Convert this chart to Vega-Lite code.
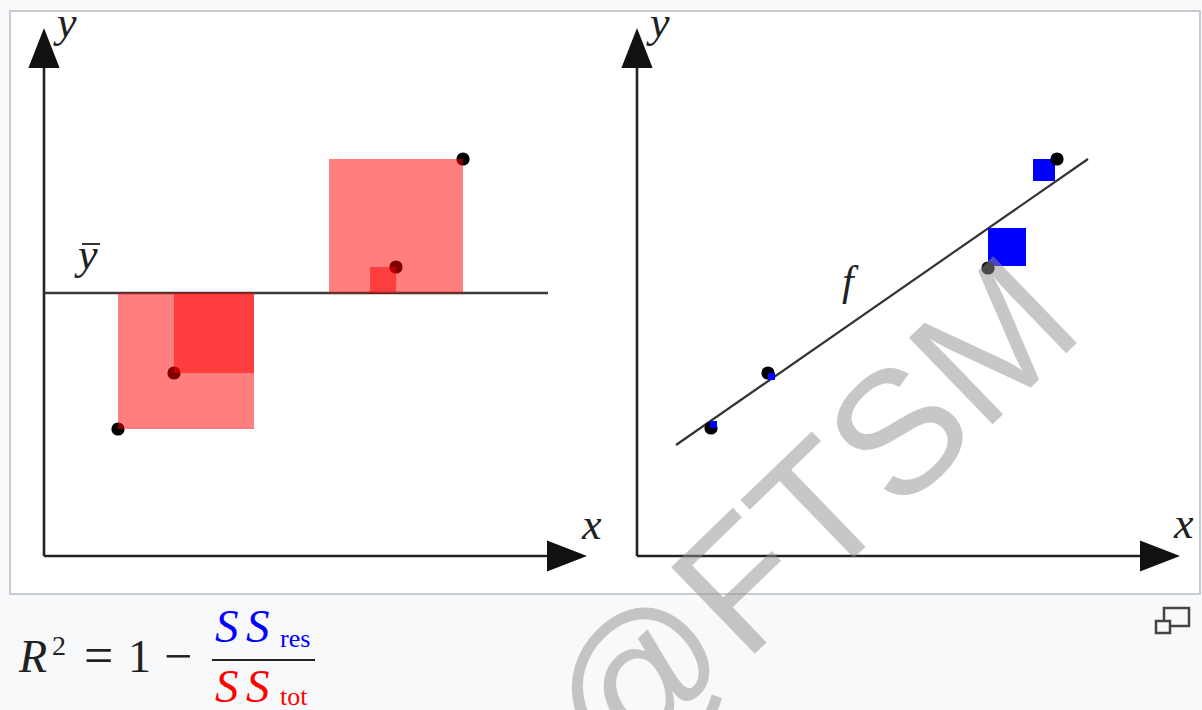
{
  "$schema": "https://vega.github.io/schema/vega-lite/v6.json",
  "width": 1202,
  "height": 710,
  "autosize": {"type": "none"},
  "padding": 0,
  "background": "#f8f9fa",
  "config": {"view": {"stroke": null}},
  "datasets": {
    "box": [{"x": 10, "x2": 1200, "y": 11, "y2": 594}],
    "lines": [
      {"name": "left y axis", "x": 44, "y": 556, "x2": 44, "y2": 55, "w": 2.6, "c": "#222222"},
      {"name": "left x axis", "x": 44, "y": 556, "x2": 570, "y2": 556, "w": 2.6, "c": "#222222"},
      {"name": "mean", "x": 44, "y": 293, "x2": 548, "y2": 293, "w": 2.4, "c": "#3a3a3a"},
      {"name": "right y axis", "x": 637, "y": 556, "x2": 637, "y2": 55, "w": 2.6, "c": "#222222"},
      {"name": "right x axis", "x": 637, "y": 556, "x2": 1163, "y2": 556, "w": 2.6, "c": "#222222"},
      {"name": "f", "x": 676, "y": 445, "x2": 1088, "y2": 159, "w": 2.2, "c": "#333333"},
      {"name": "macron", "x": 82, "y": 244, "x2": 100, "y2": 244, "w": 2, "c": "#333333"},
      {"name": "fraction", "x": 212, "y": 660, "x2": 315, "y2": 660, "w": 2, "c": "#222222"}
    ],
    "arrows": [
      {"x": 44, "y": 48, "a": 0},
      {"x": 567, "y": 556, "a": 90},
      {"x": 637, "y": 48, "a": 0},
      {"x": 1160, "y": 556, "a": 90}
    ],
    "leftPts": [
      {"x": 118, "y": 429},
      {"x": 174, "y": 373},
      {"x": 396, "y": 267},
      {"x": 463, "y": 159}
    ],
    "tot": [
      {"x": 118, "x2": 254, "y": 293, "y2": 429},
      {"x": 174, "x2": 254, "y": 293, "y2": 373},
      {"x": 370, "x2": 396, "y": 267, "y2": 293},
      {"x": 329, "x2": 463, "y": 159, "y2": 293}
    ],
    "rightPts": [
      {"x": 711, "y": 428},
      {"x": 768, "y": 373},
      {"x": 988, "y": 268},
      {"x": 1057, "y": 159}
    ],
    "res": [
      {"x": 710, "x2": 717, "y": 421, "y2": 428, "over": true},
      {"x": 768, "x2": 775, "y": 373, "y2": 380, "over": true},
      {"x": 988, "x2": 1026, "y": 228, "y2": 266, "over": false},
      {"x": 1033, "x2": 1055, "y": 159, "y2": 181, "over": false}
    ],
    "italic": [
      {"text": "y", "x": 57, "y": 37, "s": 44, "c": "#202122"},
      {"text": "y", "x": 650, "y": 37, "s": 44, "c": "#202122"},
      {"text": "x", "x": 582, "y": 539, "s": 44, "c": "#202122"},
      {"text": "x", "x": 1174, "y": 538, "s": 44, "c": "#202122"},
      {"text": "y", "x": 78, "y": 269, "s": 44, "c": "#202122"},
      {"text": "f", "x": 842, "y": 295, "s": 42, "c": "#202122"},
      {"text": "R", "x": 19, "y": 672, "s": 46, "c": "#202122"},
      {"text": "S", "x": 215, "y": 642, "s": 47, "c": "#0000ff"},
      {"text": "S", "x": 246, "y": 642, "s": 47, "c": "#0000ff"},
      {"text": "S", "x": 215, "y": 702, "s": 47, "c": "#ff0000"},
      {"text": "S", "x": 246, "y": 702, "s": 47, "c": "#ff0000"}
    ],
    "roman": [
      {"text": "2", "x": 52, "y": 655, "s": 28, "c": "#202122"},
      {"text": "=", "x": 84, "y": 673, "s": 52, "c": "#202122"},
      {"text": "1", "x": 128, "y": 672, "s": 46, "c": "#202122"},
      {"text": "−", "x": 164, "y": 673, "s": 50, "c": "#202122"},
      {"text": "res", "x": 280, "y": 647, "s": 26, "c": "#0000ff"},
      {"text": "tot", "x": 280, "y": 705, "s": 26, "c": "#ff0000"}
    ],
    "icon": [
      {"x": 1164, "x2": 1189, "y": 608, "y2": 626},
      {"x": 1156, "x2": 1170, "y": 621, "y2": 633}
    ],
    "wm": [{"text": "@FTSM", "x": 815, "y": 522}]
  },
  "encoding": {
    "x": {"field": "x", "type": "quantitative", "scale": {"domain": [0, 1202], "nice": false, "zero": false}, "axis": null},
    "y": {"field": "y", "type": "quantitative", "scale": {"domain": [0, 710], "reverse": true, "nice": false, "zero": false}, "axis": null}
  },
  "layer": [
    {
      "data": {"name": "box"},
      "mark": {"type": "rect", "fill": "#ffffff", "stroke": "#c8ccd1", "strokeWidth": 2},
      "encoding": {"x2": {"field": "x2"}, "y2": {"field": "y2"}}
    },
    {
      "data": {"name": "lines"},
      "mark": {"type": "rule"},
      "encoding": {
        "x2": {"field": "x2"},
        "y2": {"field": "y2"},
        "strokeWidth": {"field": "w", "type": "quantitative", "scale": null},
        "color": {"field": "c", "type": "nominal", "scale": null}
      }
    },
    {
      "data": {"name": "arrows"},
      "mark": {"type": "point", "shape": "M0,-1L0.78,1L-0.78,1Z", "filled": true, "size": 1600, "color": "#111111", "opacity": 1},
      "encoding": {"angle": {"field": "a", "type": "quantitative", "scale": null}}
    },
    {
      "data": {"name": "leftPts"},
      "mark": {"type": "point", "shape": "circle", "filled": true, "size": 175, "color": "#000000", "opacity": 1}
    },
    {
      "data": {"name": "tot"},
      "mark": {"type": "rect", "fill": "#ff0000", "opacity": 0.5},
      "encoding": {"x2": {"field": "x2"}, "y2": {"field": "y2"}}
    },
    {
      "data": {"name": "res"},
      "transform": [{"filter": "!datum.over"}],
      "mark": {"type": "rect", "fill": "#0000ff"},
      "encoding": {"x2": {"field": "x2"}, "y2": {"field": "y2"}}
    },
    {
      "data": {"name": "rightPts"},
      "mark": {"type": "point", "shape": "circle", "filled": true, "size": 175, "color": "#000000", "opacity": 1}
    },
    {
      "data": {"name": "res"},
      "transform": [{"filter": "datum.over"}],
      "mark": {"type": "rect", "fill": "#0000ff"},
      "encoding": {"x2": {"field": "x2"}, "y2": {"field": "y2"}}
    },
    {
      "data": {"name": "italic"},
      "mark": {"type": "text", "font": "Liberation Serif", "fontStyle": "italic", "align": "left", "baseline": "alphabetic"},
      "encoding": {
        "text": {"field": "text"},
        "size": {"field": "s", "type": "quantitative", "scale": null},
        "color": {"field": "c", "type": "nominal", "scale": null}
      }
    },
    {
      "data": {"name": "roman"},
      "mark": {"type": "text", "font": "Liberation Serif", "align": "left", "baseline": "alphabetic"},
      "encoding": {
        "text": {"field": "text"},
        "size": {"field": "s", "type": "quantitative", "scale": null},
        "color": {"field": "c", "type": "nominal", "scale": null}
      }
    },
    {
      "data": {"name": "icon"},
      "mark": {"type": "rect", "fill": "#f8f9fa", "stroke": "#444444", "strokeWidth": 2.5},
      "encoding": {"x2": {"field": "x2"}, "y2": {"field": "y2"}}
    },
    {
      "data": {"name": "wm"},
      "mark": {"type": "text", "font": "Liberation Sans", "fontSize": 175, "angle": -44, "align": "center", "baseline": "middle", "color": "#919191", "opacity": 0.5},
      "encoding": {"text": {"field": "text"}}
    }
  ]
}
